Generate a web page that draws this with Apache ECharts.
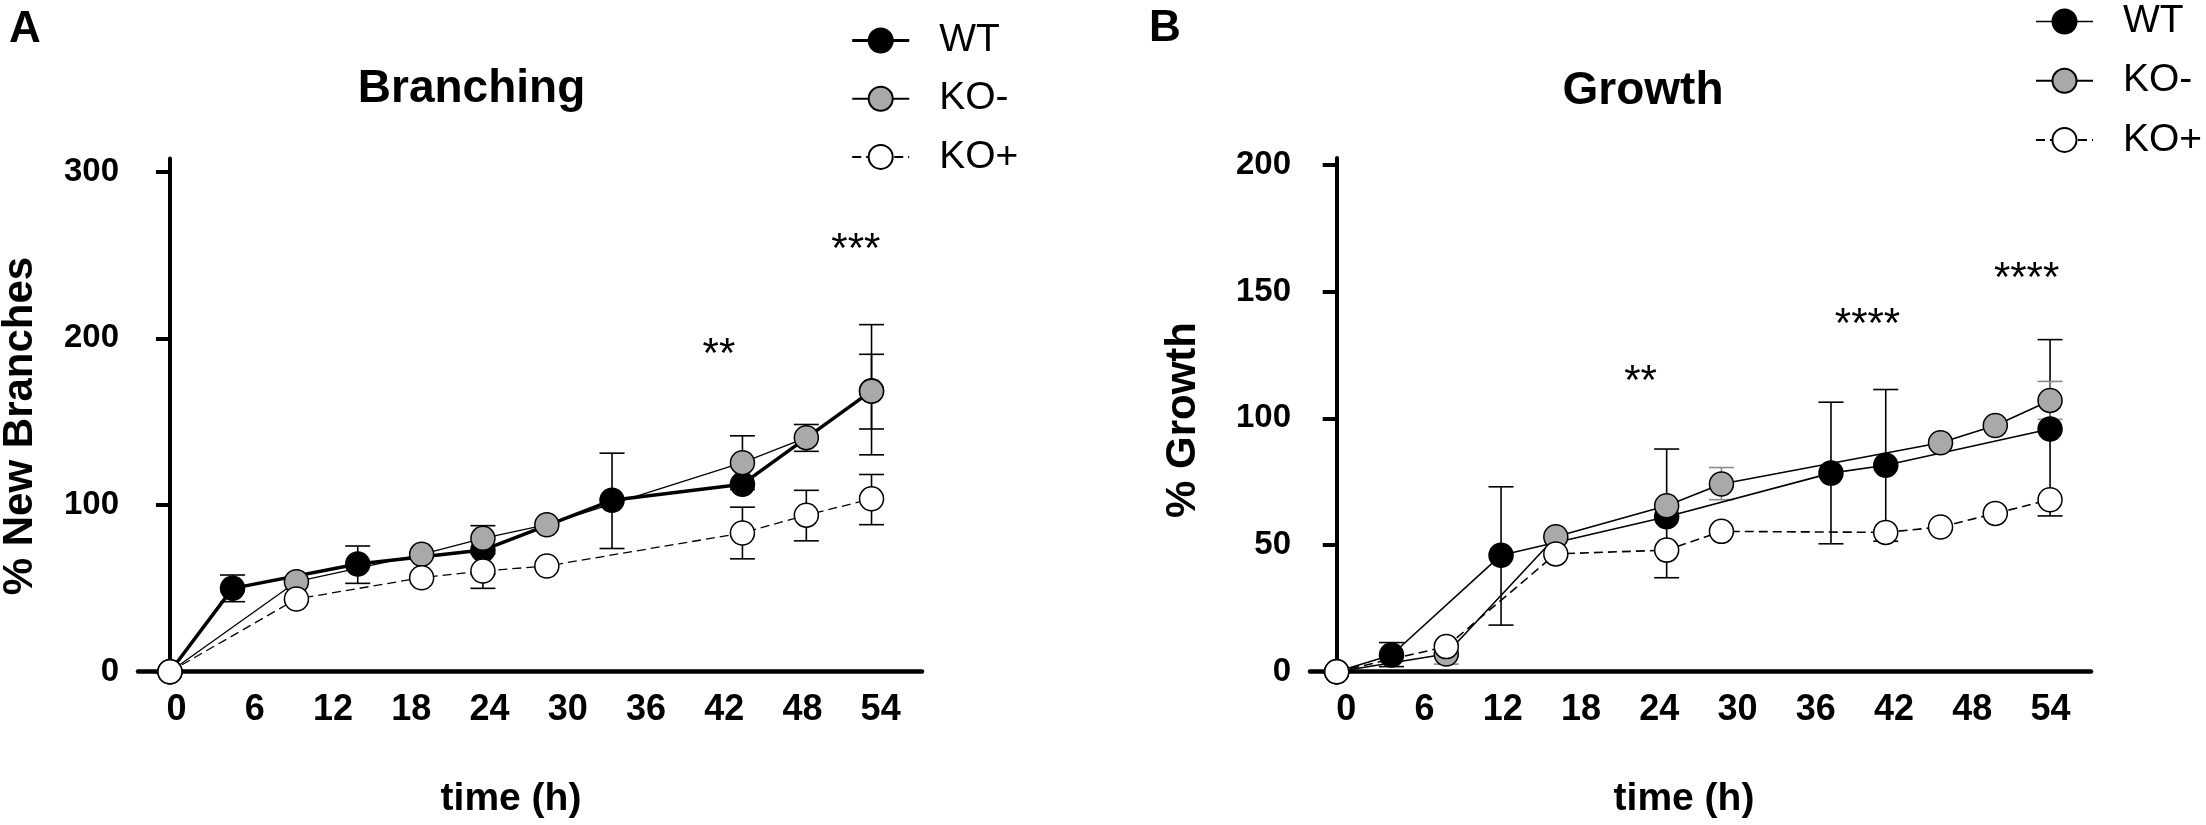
<!DOCTYPE html>
<html>
<head>
<meta charset="utf-8">
<script src="https://cdn.jsdelivr.net/npm/echarts@6.0.0/dist/echarts.min.js"></script>
<style>
  html, body { margin: 0; padding: 0; background: #fff; }
  #chart { width: 2206px; height: 825px; }
</style>
</head>
<body>
<div id="chart"></div>
<script>
// 数据：时间(h) 与 百分比
var xTicks = [0, 6, 12, 18, 24, 30, 36, 42, 48, 54];

// A - Branching
var tA_wt = [0, 4.8, 14.4, 24.0, 33.9, 43.9, 53.8];
var wtA = [0, 50, 64.6, 73, 102.8, 112.5, 168.5];
var tA_ko = [0, 9.7, 19.3, 24.0, 28.9, 43.9, 48.8, 53.8];
var koMinusA = [0, 54, 70.4, 80, 88.2, 125.4, 140.4, 168.3];
var koPlusA = [0, 43.6, 56.4, 60.4, 63.4, 83.2, 93.9, 103.7];
// 误差线 [时间, 下限, 上限]
var errWtA = [[4.8, 42, 58], [14.4, 53, 75.4], [24.0, 58.4, 87.6], [33.9, 73.9, 131.1], [53.8, 130.1, 208.2]];
var errKoMinusA = [[43.9, 109.3, 141.5], [48.8, 132.2, 148.3], [53.8, 145.6, 190.4]];
var errKoPlusA = [[24.0, 50, 70.8], [43.9, 67.7, 98.7], [48.8, 78.5, 108.8], [53.8, 88.2, 118.3]];
var sigA = [[42.1, 196], [52.6, 258.6]];
var sigTextA = ['**', '***'];

// B - Growth
var tB_wt = [0, 4.2, 12.6, 25.3, 37.9, 42.1, 54.7];
var wtB = [0, 6.6, 46, 61.2, 78.4, 81.5, 95.8];
var tB_koMinus = [0, 8.4, 16.8, 25.3, 29.5, 46.3, 50.5, 54.7];
var koMinusB = [0, 7, 53.3, 65.5, 74.1, 90.4, 97.2, 107.1];
var tB_koPlus = [0, 8.4, 16.8, 25.3, 29.5, 42.1, 46.3, 50.5, 54.7];
var koPlusB = [0, 9.9, 46.5, 48, 55.4, 55, 57.1, 62.5, 67.9];
var errWtB = [[4.2, 2, 11.5], [12.6, 18.4, 73], [25.3, 37.1, 87.9], [37.9, 50.5, 106.4], [42.1, 51.5, 111.4], [54.7, 61.5, 131.1]];
var errKoMinusB = [[8.4, 3, 11], [29.5, 67.9, 80.6], [54.7, 99.6, 114.6]];
var sigB = [[23.3, 118.2], [40.7, 140.7], [52.9, 158.8]];
var sigTextB = ['**', '****', '****'];

var FONT = 'Liberation Sans, Arial, Helvetica, sans-serif';
var myChart = echarts.init(document.getElementById('chart'));

function pairs(xs, ys) {
    return xs.map(function (x, i) { return [x, ys[i]]; });
}

function lineSeries(name, xs, ys, gi, fill, width, dashed, z) {
    return {
        name: name,
        type: 'line',
        xAxisIndex: gi,
        yAxisIndex: gi,
        data: pairs(xs, ys),
        symbol: 'circle',
        symbolSize: 24,
        showSymbol: true,
        clip: false,
        z: z,
        itemStyle: { color: fill, borderColor: '#000', borderWidth: 1.5 },
        lineStyle: { color: '#000', width: width, type: dashed ? [9, 5] : 'solid' },
        emphasis: { disabled: true }
    };
}

function errSeries(rows, gi, color) {
    return {
        type: 'custom',
        xAxisIndex: gi,
        yAxisIndex: gi,
        data: rows,
        clip: false,
        z: 1,
        silent: true,
        renderItem: function (params, api) {
            var lo = api.coord([api.value(0), api.value(1)]);
            var hi = api.coord([api.value(0), api.value(2)]);
            var w = 12.5;
            var st = { stroke: color, lineWidth: 1.6 };
            return {
                type: 'group',
                children: [
                    { type: 'line', shape: { x1: lo[0], y1: lo[1], x2: hi[0], y2: hi[1] }, style: st },
                    { type: 'line', shape: { x1: lo[0] - w, y1: lo[1], x2: lo[0] + w, y2: lo[1] }, style: st },
                    { type: 'line', shape: { x1: hi[0] - w, y1: hi[1], x2: hi[0] + w, y2: hi[1] }, style: st }
                ]
            };
        }
    };
}

function sigSeries(rows, texts, gi) {
    return {
        type: 'custom',
        xAxisIndex: gi,
        yAxisIndex: gi,
        data: rows,
        clip: false,
        silent: true,
        z: 5,
        renderItem: function (params, api) {
            var p = api.coord([api.value(0), api.value(1)]);
            return {
                type: 'text',
                x: p[0],
                y: p[1] + 10,
                style: {
                    text: texts[params.dataIndex],
                    fill: '#000',
                    font: '42px ' + FONT,
                    align: 'center',
                    verticalAlign: 'middle'
                }
            };
        }
    };
}

function xAxisOpt(gi, min, max, pad) {
    return {
        type: 'value', gridIndex: gi, min: min, max: max,
        axisLine: { show: true, lineStyle: { color: '#000', width: 4.5 } },
        axisTick: { show: false },
        splitLine: { show: false },
        axisLabel: {
            customValues: xTicks,
            fontSize: 36, fontWeight: 'bold', fontFamily: FONT, color: '#000',
            margin: 20, padding: [0, 0, 0, pad]
        }
    };
}

function yAxisOpt(gi, max, ticks) {
    return {
        type: 'value', gridIndex: gi, min: 0, max: max,
        axisLine: { show: true, lineStyle: { color: '#000', width: 4 } },
        axisTick: { show: true, customValues: ticks, length: 14, lineStyle: { color: '#000', width: 4 } },
        splitLine: { show: false },
        axisLabel: {
            customValues: ticks,
            fontSize: 33, fontWeight: 'bold', fontFamily: FONT, color: '#000',
            margin: 19
        }
    };
}

function txt(text, x, y, size, bold, rot) {
    return {
        type: 'text', x: x, y: y, rotation: rot || 0,
        style: {
            text: text, fill: '#000',
            font: (bold ? 'bold ' : '') + size + 'px ' + FONT,
            align: 'center', verticalAlign: 'middle'
        }
    };
}

function legendOpt(left, top, gap, wtWidth) {
    return {
        orient: 'vertical', left: left, top: top, padding: 0,
        itemWidth: 57, itemHeight: 30, itemGap: gap,
        selectedMode: false,
        textStyle: { fontSize: 39, fontFamily: FONT, color: '#000', padding: [0, 0, 0, 25] },
        data: [
            { name: 'WT', lineStyle: { width: wtWidth } },
            { name: 'KO-' },
            { name: 'KO+' }
        ]
    };
}

option = {
    backgroundColor: '#fff',
    animation: false,
    grid: [
        { left: 138, top: 158.6, width: 784, height: 513.1, outerBoundsMode: 'none' },
        { left: 1310, top: 158, width: 781, height: 513.7, outerBoundsMode: 'none' }
    ],
    xAxis: [
        xAxisOpt(0, -2.45, 57.67, 13),
        xAxisOpt(1, -2.05, 57.84, 19)
    ],
    yAxis: [
        yAxisOpt(0, 307.8, [0, 100, 200, 300]),
        yAxisOpt(1, 202.8, [0, 50, 100, 150, 200])
    ],
    legend: [
        legendOpt(850.7, 21, 19.2, 3),
        legendOpt(2035, 2, 20.2, 1.6)
    ],
    graphic: [
        txt('A', 25, 30, 44, true),
        txt('B', 1165, 29, 44, true),
        txt('Branching', 471.5, 89, 46, true),
        txt('Growth', 1643, 91, 46, true),
        txt('% New Branches', 20, 426, 42, true, Math.PI / 2),
        txt('% Growth', 1183, 420, 42, true, Math.PI / 2),
        txt('time (h)', 511, 799, 39, true),
        txt('time (h)', 1684, 799, 39, true)
    ],
    series: [
        errSeries(errWtA, 0, '#000'),
        errSeries(errKoMinusA, 0, '#000'),
        errSeries(errKoPlusA, 0, '#000'),
        lineSeries('WT', tA_wt, wtA, 0, '#000', 3.5, false, 2),
        lineSeries('KO-', tA_ko, koMinusA, 0, '#a9a9a9', 1.3, false, 3),
        lineSeries('KO+', tA_ko, koPlusA, 0, '#fff', 1.3, true, 4),
        sigSeries(sigA, sigTextA, 0),

        errSeries(errWtB, 1, '#000'),
        errSeries(errKoMinusB, 1, '#8a8a8a'),
        lineSeries('WT', tB_wt, wtB, 1, '#000', 1.6, false, 2),
        lineSeries('KO-', tB_koMinus, koMinusB, 1, '#a9a9a9', 1.6, false, 3),
        lineSeries('KO+', tB_koPlus, koPlusB, 1, '#fff', 1.6, true, 4),
        sigSeries(sigB, sigTextB, 1)
    ]
};
myChart.setOption(option);
</script>
</body>
</html>
